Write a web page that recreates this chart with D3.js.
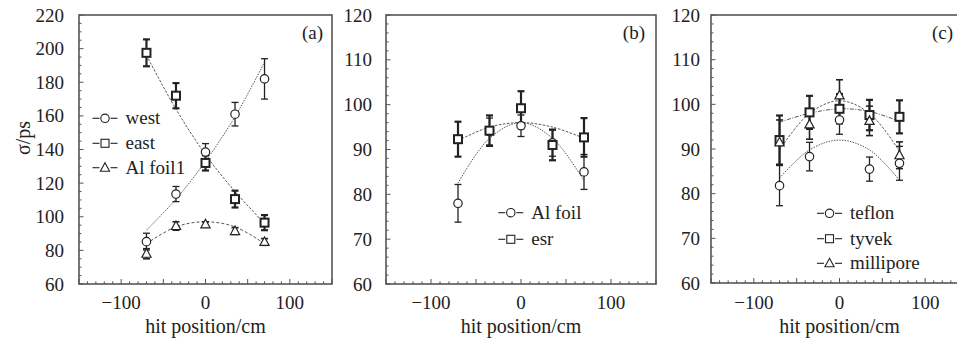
<!DOCTYPE html>
<html><head><meta charset="utf-8">
<script src="https://cdn.jsdelivr.net/npm/d3@7"></script>
<style>body{margin:0;background:#fff}svg{display:block}</style>
</head><body><div id="chart"></div>
<script>
// ---------- data ----------
const hitPos = [-70, -35, 0, 35, 70];
const xTickVals = [-100, 0, 100];
const yTicksA = [60, 80, 100, 120, 140, 160, 180, 200, 220];
const yTicksBC = [60, 70, 80, 90, 100, 110, 120];
const panelLabels = ["(a)", "(b)", "(c)"];
const xTitle = "hit position/cm";
const yTitle = "σ/ps";

// panel (a)
const westVal = [85.2, 113.5, 138.5, 161, 182];
const westErr = [5, 4.5, 5, 7, 12];
const eastVal = [197.5, 172, 132, 110.5, 96.5];
const eastErr = [8, 7.5, 4.5, 5, 4.5];
const alFoil1Val = [78, 94.5, 95.5, 91.5, 85];
const alFoil1Err = [3, 2.5, 1.5, 2, 2];
const westFit = [92, 110.5, 133, 159.5, 192];
const eastFit = [196, 164, 137, 115, 96];
const alFoil1Fit = [84, 94, 97, 94, 84];

// panel (b)
const alFoilVal = [78, 94, 95.3, 91.5, 85];
const alFoilErr = [4.2, 3, 2.4, 3, 3.9];
const esrVal = [92.3, 94.2, 99.2, 91, 92.7];
const esrErr = [3.9, 3.4, 3.8, 3.4, 4.3];
const alFoilFit = [82.5, 92.5, 96, 92.5, 83];
const esrFit = [92, 95, 96, 95, 92.5];

// panel (c)
const teflonVal = [81.8, 88.3, 96.5, 85.5, 86.8];
const teflonErr = [4.5, 3.2, 3.2, 2.7, 3.8];
const tyvekVal = [92, 98.2, 99, 97.6, 97.2];
const tyvekErr = [5.5, 3.7, 3.3, 3.4, 3.7];
const milliporeVal = [91.5, 95.5, 102, 96.3, 88.6];
const milliporeErr = [5, 3.3, 3.5, 3.3, 3];
const teflonFit = [83.5, 89.8, 92, 89.8, 83];
const tyvekFit = [96, 98, 99, 98.4, 96.2];
const milliporeFit = [89.8, 98, 100.8, 98, 89.5];

// ---------- layout ----------
const W = 957, H = 346;
const FONT = "'Liberation Serif', 'Times New Roman', Times, 'DejaVu Serif', serif";
const svg = d3.select("#chart").append("svg").attr("width", W).attr("height", H)
  .attr("font-family", FONT);
const ink = "#222", frameCol = "#555";

const panels = [
  {left:79, right:332, top:15, bottom:284, yDom:[60,220], yTicks:yTicksA, minorY:5, label:panelLabels[0], labelX:323, labelGap:15,
   legendX:92.5, legendY:[118.3,143.3,167.7],
   series:[
     {name:"west", val:westVal, err:westErr, fit:westFit, shape:"circle", ew:1.3, sw:1.2, dash:"1.5,1.2"},
     {name:"east", val:eastVal, err:eastErr, fit:eastFit, shape:"square", ew:2.2, sw:2, dash:"2.5,1.5"},
     {name:"Al foil1", val:alFoil1Val, err:alFoil1Err, fit:alFoil1Fit, shape:"triangle", ew:1.6, sw:1.2, dash:"3,2"}
   ]},
  {left:386, right:656, top:15, bottom:284, yDom:[60,120], yTicks:yTicksBC, minorY:2, label:panelLabels[1], labelX:645, labelGap:14,
   legendX:498.3, legendY:[212.7,239.3],
   series:[
     {name:"Al foil", val:alFoilVal, err:alFoilErr, fit:alFoilFit, shape:"circle", ew:1.3, sw:1.2, dash:"1.5,1.2"},
     {name:"esr", val:esrVal, err:esrErr, fit:esrFit, shape:"square", ew:2.2, sw:2, dash:"2.5,1.5"}
   ]},
  {left:711, right:968, top:15, bottom:283, yDom:[60,120], yTicks:yTicksBC, minorY:2, label:panelLabels[2], labelX:953, labelGap:11,
   legendX:817, legendY:[213.3,238.7,263.3],
   series:[
     {name:"teflon", val:teflonVal, err:teflonErr, fit:teflonFit, shape:"circle", ew:1.3, sw:1.2, dash:"1.5,1.2"},
     {name:"tyvek", val:tyvekVal, err:tyvekErr, fit:tyvekFit, shape:"square", ew:2.2, sw:2, dash:"4,1.5,1,1.5"},
     {name:"millipore", val:milliporeVal, err:milliporeErr, fit:milliporeFit, shape:"triangle", ew:1.6, sw:1.2, dash:"2.5,1.5"}
   ]}
];

function drawMarker(g, shape, cx, cy, sw){
  if(shape==="circle"){
    g.append("circle").attr("cx",cx).attr("cy",cy).attr("r",4.2)
      .attr("fill","#fff").attr("stroke",ink).attr("stroke-width",sw);
  } else if(shape==="square"){
    g.append("rect").attr("x",cx-4).attr("y",cy-4).attr("width",8).attr("height",8)
      .attr("fill","#fff").attr("stroke",ink).attr("stroke-width",sw);
  } else {
    g.append("path").attr("d",`M${cx},${cy-5}L${cx+4.6},${cy+3.5}L${cx-4.6},${cy+3.5}Z`)
      .attr("fill","#fff").attr("stroke",ink).attr("stroke-width",sw);
  }
}

function txt(g){ return g.append("text").attr("font-family",FONT).attr("fill",ink); }

panels.forEach((p, pi) => {
  const x = d3.scaleLinear().domain([-150,150]).range([p.left,p.right]);
  const y = d3.scaleLinear().domain(p.yDom).range([p.bottom,p.top]);
  const g = svg.append("g");

  // frame
  g.append("rect").attr("x",p.left).attr("y",p.top).attr("width",p.right-p.left).attr("height",p.bottom-p.top)
    .attr("fill","none").attr("stroke",frameCol).attr("stroke-width",1.6);

  // x ticks (inward)
  const xMinor = d3.range(-150,151,10);
  g.selectAll(null).data(xMinor).enter().append("line")
    .attr("x1",d=>x(d)).attr("x2",d=>x(d)).attr("y1",p.bottom)
    .attr("y2",d=> p.bottom - (d%50===0 ? 5 : 2.7))
    .attr("stroke",frameCol).attr("stroke-width",1);
  // y ticks
  const yMinor = d3.range(p.yDom[0], p.yDom[1]+0.001, p.minorY);
  const majorStep = p.yTicks[1]-p.yTicks[0];
  g.selectAll(null).data(yMinor).enter().append("line")
    .attr("y1",d=>y(d)).attr("y2",d=>y(d)).attr("x1",p.left)
    .attr("x2",d=> p.left + (Math.abs(((d-p.yDom[0])/majorStep) - Math.round((d-p.yDom[0])/majorStep))<1e-6 ? 4.5 : 2.5))
    .attr("stroke",frameCol).attr("stroke-width",1);

  // tick labels
  const fmt = d3.format("d");
  xTickVals.forEach(d => txt(g).attr("x",x(d)).attr("y",309).attr("text-anchor","middle").attr("font-size",19).text(fmt(d)));
  p.yTicks.forEach(d => txt(g).attr("x",p.left - p.labelGap).attr("y",y(d)+6.5).attr("text-anchor","end").attr("font-size",19).text(fmt(d)));

  // axis title
  txt(g).attr("x",x(0)).attr("y",333).attr("text-anchor","middle").attr("font-size",20).text(xTitle);
  if(pi===0){
    txt(g).attr("transform","translate(30,138) rotate(-90)").attr("text-anchor","middle")
      .attr("font-size",20).text(yTitle);
  }
  // panel label
  txt(g).attr("x",p.labelX).attr("y",39).attr("text-anchor","end").attr("font-size",19).text(p.label);

  // fits
  const line = d3.line().x((d,i)=>x(hitPos[i])).y(d=>y(d)).curve(d3.curveCatmullRom.alpha(0.5));
  p.series.forEach(s=>{
    g.append("path").attr("d",line(s.fit)).attr("fill","none").attr("stroke","#444")
      .attr("stroke-width",0.9).attr("stroke-dasharray",s.dash);
  });
  // error bars
  p.series.forEach(s=>{
    s.val.forEach((v,i)=>{
      const cx = x(hitPos[i]), y1 = y(v+s.err[i]), y2 = y(v-s.err[i]);
      g.append("line").attr("x1",cx).attr("x2",cx).attr("y1",y1).attr("y2",y2).attr("stroke",ink).attr("stroke-width",s.ew);
      [y1,y2].forEach(yy=> g.append("line").attr("x1",cx-3.5).attr("x2",cx+3.5).attr("y1",yy).attr("y2",yy)
        .attr("stroke",ink).attr("stroke-width",s.ew));
    });
  });
  // markers
  p.series.forEach(s=>{
    s.val.forEach((v,i)=> drawMarker(g, s.shape, x(hitPos[i]), y(v), s.sw));
  });

  // legend
  p.series.forEach((s,k)=>{
    const lx = p.legendX, ly = p.legendY[k];
    g.append("line").attr("x1",lx).attr("x2",lx+7).attr("y1",ly).attr("y2",ly).attr("stroke",ink).attr("stroke-width",1.1);
    g.append("line").attr("x1",lx+18).attr("x2",lx+25).attr("y1",ly).attr("y2",ly).attr("stroke",ink).attr("stroke-width",1.1);
    drawMarker(g, s.shape, lx+12.5, ly, 1.1);
    txt(g).attr("x",lx+33).attr("y",ly+6).attr("font-size",19).text(s.name);
  });
});
</script></body></html>
